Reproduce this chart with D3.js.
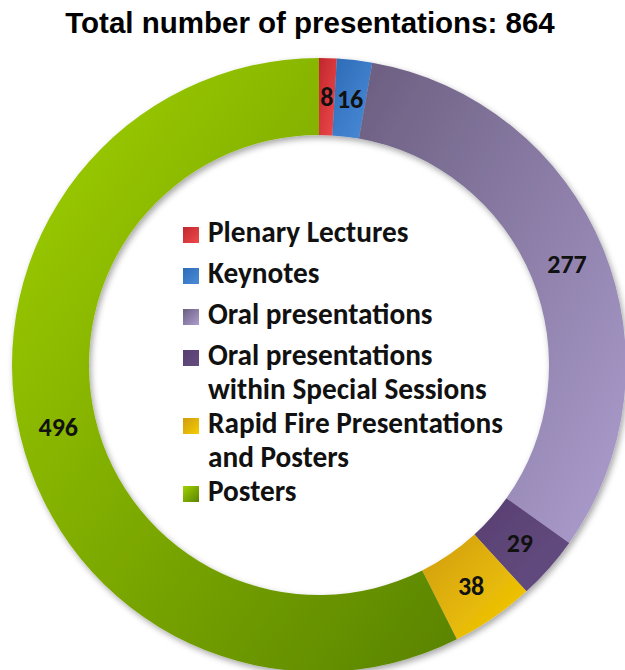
<!DOCTYPE html>
<html>
<head>
<meta charset="utf-8">
<script src="https://cdn.jsdelivr.net/npm/d3@7"></script>
<style>
  body { margin: 0; background: #fff; }
</style>
</head>
<body>
<svg id="chart" width="625" height="670"></svg>
<script>
// data
var title = "Total number of presentations: 864";
var categories = ["Plenary Lectures", "Keynotes", "Oral presentations",
  "Oral presentations within Special Sessions", "Rapid Fire Presentations and Posters", "Posters"];
var legendLines = [["Plenary Lectures"], ["Keynotes"], ["Oral presentations"],
  ["Oral presentations", "within Special Sessions"], ["Rapid Fire Presentations", "and Posters"], ["Posters"]];
var counts = [8, 16, 277, 29, 38, 496];
var colorFrom = ["#c0272d", "#2d6bb5", "#6b5e80", "#573f72", "#cf9c12", "#a2d200"];
var colorTo   = ["#f04a4c", "#4b8cda", "#ad9ecf", "#654d80", "#f6cd00", "#598300"];

var data = categories.map(function(c, i){ return {name: c, value: counts[i], i: i} });

var svg = d3.select("#chart");
var cx = 319, cy = 365, rOuter = 307, rInner = 230, rLabel = 268;

// gradients + shadow
var defs = svg.append("defs");
data.forEach(function(d){
  var g = defs.append("linearGradient")
    .attr("id", "grad" + d.i)
    .attr("x1", 0).attr("y1", 0).attr("x2", 1).attr("y2", 1);
  g.append("stop").attr("offset", "0%").attr("stop-color", colorFrom[d.i]);
  g.append("stop").attr("offset", "100%").attr("stop-color", colorTo[d.i]);
});
var f = defs.append("filter").attr("id", "shadow")
  .attr("x", "-10%").attr("y", "-10%").attr("width", "120%").attr("height", "120%");
f.append("feDropShadow").attr("dx", 2).attr("dy", 3).attr("stdDeviation", 3)
  .attr("flood-color", "#000").attr("flood-opacity", 0.35);

// title
svg.append("text")
  .attr("x", 310).attr("y", 33)
  .attr("text-anchor", "middle")
  .style("font-family", "'Liberation Sans', Arial, sans-serif")
  .style("font-weight", "bold")
  .style("font-size", "29.5px")
  .style("fill", "#000")
  .text(title);

// ring
var pie = d3.pie().sort(null).value(function(d){ return d.value });
var arc = d3.arc().innerRadius(rInner).outerRadius(rOuter);
var labelArc = d3.arc().innerRadius(rLabel).outerRadius(rLabel);

var ring = svg.append("g")
  .attr("transform", "translate(" + cx + "," + cy + ")");

ring.append("g")
  .attr("filter", "url(#shadow)")
  .selectAll("path")
  .data(pie(data))
  .enter()
  .append("path")
    .attr("d", arc)
    .attr("fill", function(d){ return "url(#grad" + d.data.i + ")" });

ring.selectAll(".lbl")
  .data(pie(data))
  .enter()
  .append("text")
    .attr("class", "lbl")
    .attr("transform", function(d){ return "translate(" + labelArc.centroid(d) + ")" })
    .attr("text-anchor", "middle")
    .attr("dy", "0.36em")
    .style("font-family", "Carlito, Lato, sans-serif")
    .style("font-weight", "900")
    .style("font-size", "26px")
    .style("fill", "#111")
    .text(function(d){ return d.data.value });

// legend
var legend = svg.append("g");
var legX = 183, textX = 208, y0 = 242, entryStep = 41, lineStep = 34;
var y = y0, rows = [];
legendLines.forEach(function(lines, i){
  if (i > 0) y += (legendLines[i-1].length > 1 ? lineStep : entryStep);
  rows.push({i: i, y: y, lines: lines});
  y += (lines.length - 1) * lineStep;
});

var legFont = 26;
rows.forEach(function(r){
  legend.append("rect")
    .attr("x", legX).attr("y", r.y - 15)
    .attr("width", 16).attr("height", 16)
    .attr("fill", "url(#grad" + r.i + ")");
  r.lines.forEach(function(line, k){
    legend.append("text")
      .attr("class", "legtxt")
      .attr("x", textX).attr("y", r.y + k * lineStep)
      .style("font-family", "Carlito, Lato, sans-serif")
      .style("font-weight", "bold")
      .style("font-size", legFont + "px")
      .style("fill", "#111")
      .text(line);
  });
});

// fit the widest legend line to the width seen in the picture
var widest = 0;
legend.selectAll(".legtxt").each(function(){
  widest = Math.max(widest, this.getComputedTextLength());
});
if (widest > 0) {
  legend.selectAll(".legtxt").style("font-size", (legFont * 295 / widest) + "px");
}
</script>
</body>
</html>
